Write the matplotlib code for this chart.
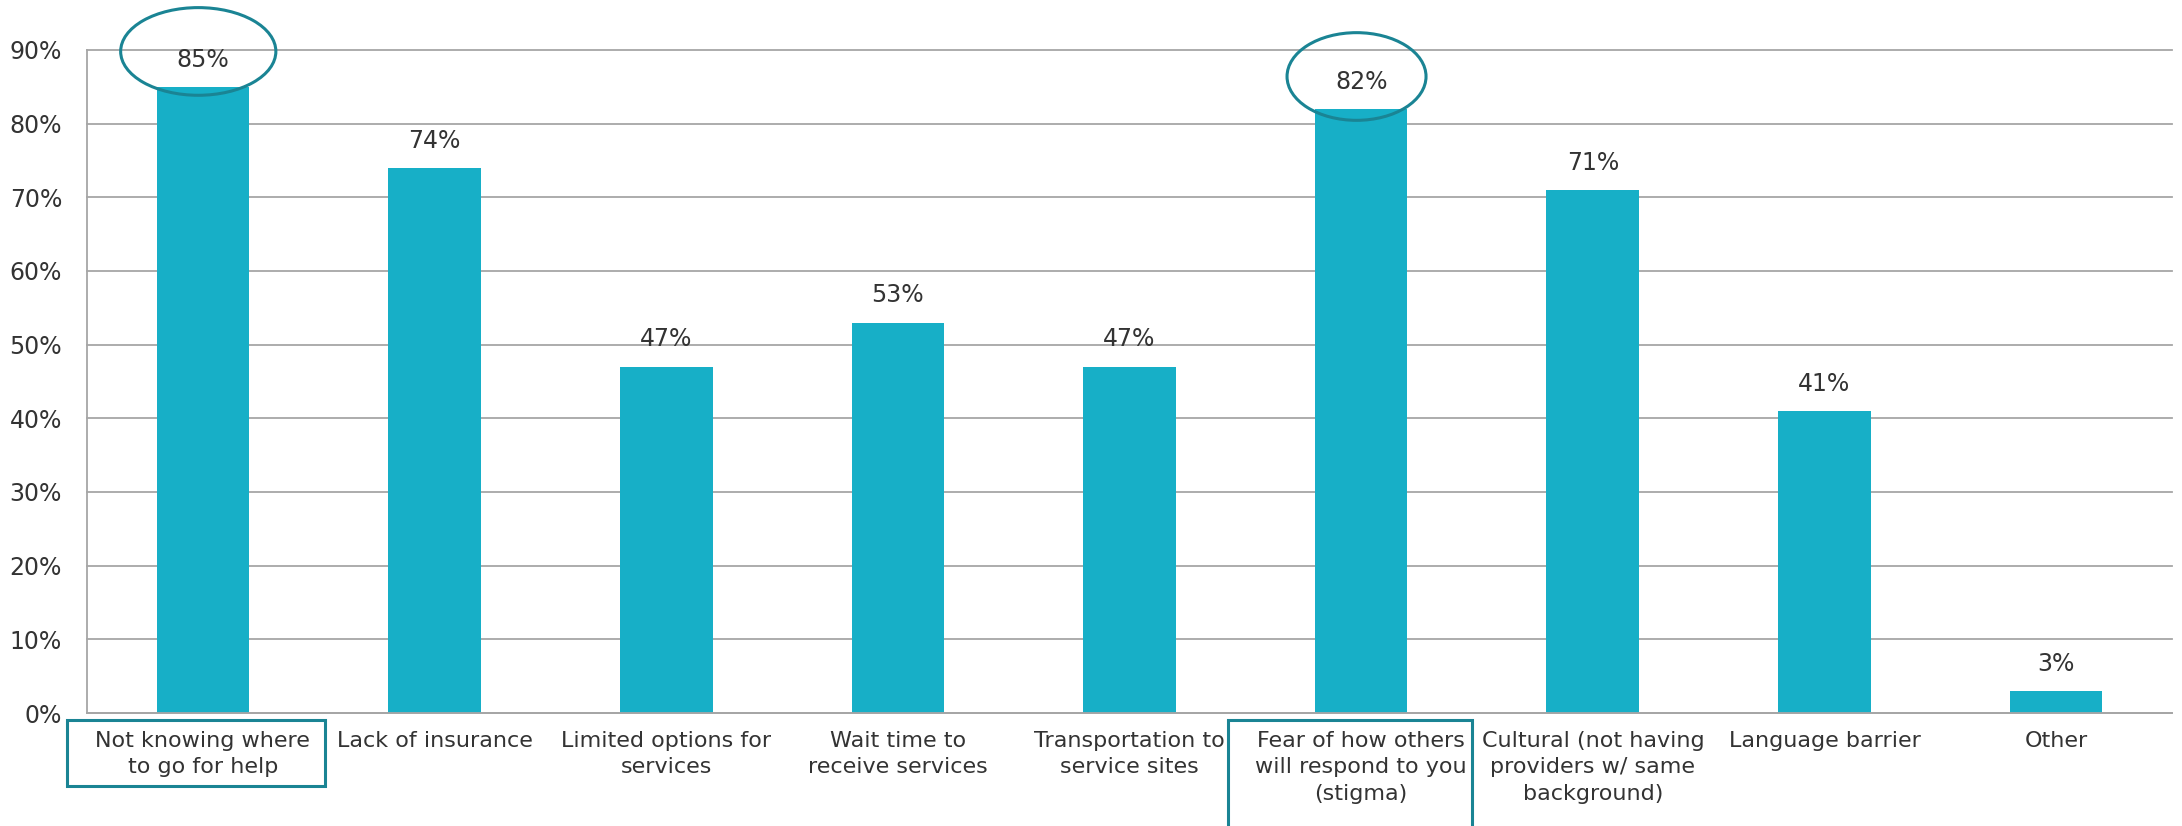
import matplotlib.pyplot as plt
from matplotlib.patches import Ellipse, Rectangle
from matplotlib.transforms import blended_transform_factory

# Dataset
categories = [
    "Not knowing where\nto go for help",
    "Lack of insurance",
    "Limited options for\nservices",
    "Wait time to\nreceive services",
    "Transportation to\nservice sites",
    "Fear of how others\nwill respond to you\n(stigma)",
    "Cultural (not having\nproviders w/ same\nbackground)",
    "Language barrier",
    "Other",
]
percents = [85, 74, 47, 53, 47, 82, 71, 41, 3]

bar_color = "#17AFC7"
mark_color = "#1A8494"
text_color = "#333333"
grid_color = "#A6A6A6"

plt.rcParams["font.family"] = "DejaVu Sans"

fig = plt.figure(figsize=(21.82, 8.26), dpi=100)
ax = fig.add_axes([0.0399, 0.1368, 0.9555, 0.8027])

x = list(range(len(categories)))
ax.bar(x, percents, width=0.4, color=bar_color, zorder=2)

# value labels
for xi, v in zip(x, percents):
    ax.annotate(f"{v}%", (xi, v), xytext=(0, 11), textcoords="offset points",
                ha="center", va="bottom", fontsize=17, color=text_color)

ax.set_xlim(-0.5, len(categories) - 0.5)
ax.set_ylim(0, 90)
ax.set_yticks(range(0, 91, 10))
ax.set_yticklabels([f"{t}%" for t in range(0, 91, 10)], fontsize=17, color=text_color)
ax.set_xticks(x)
ax.set_xticklabels(categories, fontsize=16, color=text_color, linespacing=1.4)
ax.tick_params(axis="both", length=0)
ax.tick_params(axis="y", pad=18)
ax.tick_params(axis="x", pad=13)

ax.yaxis.grid(True, color=grid_color, linewidth=1.3, zorder=0)
for gl in ax.yaxis.get_gridlines():
    gl.set_clip_on(False)
ax.set_axisbelow(True)
for side in ["top", "right"]:
    ax.spines[side].set_visible(False)
for side in ["left", "bottom"]:
    ax.spines[side].set_color(grid_color)
    ax.spines[side].set_linewidth(1.3)

# ellipses around the highlighted values
for xc, yc, w in [(-0.02, 89.8, 0.67), (4.98, 86.4, 0.60)]:
    ax.add_patch(Ellipse((xc, yc), w, 11.9, fill=False, edgecolor=mark_color,
                         linewidth=2.2, clip_on=False, zorder=3))

# boxes around the highlighted category labels
trans = blended_transform_factory(ax.transData, ax.transAxes)
for x0, x1, y0, y1 in [(-0.586, 0.527, -0.110, -0.0106), (4.424, 5.478, -0.25, -0.0106)]:
    ax.add_patch(Rectangle((x0, y0), x1 - x0, y1 - y0, transform=trans, fill=False,
                           edgecolor=mark_color, linewidth=2.2, clip_on=False, zorder=3))

fig.savefig("out.png", dpi=100)
